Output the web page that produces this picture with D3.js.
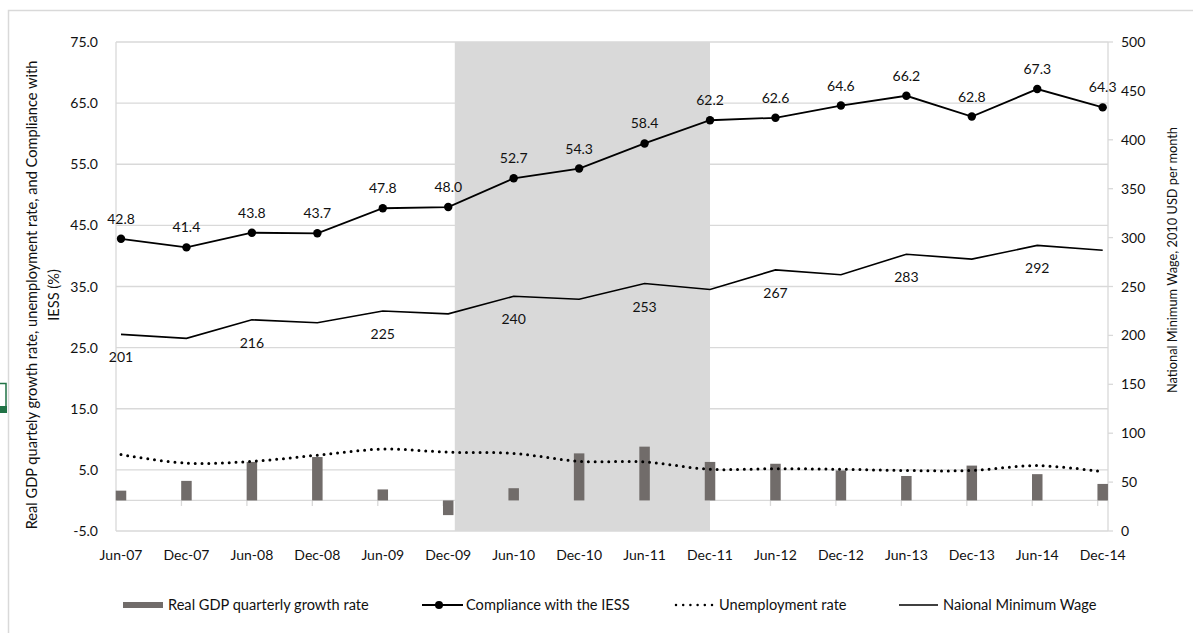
<!DOCTYPE html>
<html>
<head>
<meta charset="utf-8">
<script src="https://cdn.jsdelivr.net/npm/d3@7"></script>
<style>
  html, body { margin: 0; padding: 0; background: #fff; }
  svg text { font-family: Lato, "Open Sans", sans-serif; fill: #111; }
</style>
</head>
<body>
<svg id="chart" width="1193" height="633"></svg>
<script>
// Half-yearly observations, Jun-07 to Dec-14
const categories = ["Jun-07","Dec-07","Jun-08","Dec-08","Jun-09","Dec-09","Jun-10","Dec-10",
                    "Jun-11","Dec-11","Jun-12","Dec-12","Jun-13","Dec-13","Jun-14","Dec-14"];
// Real GDP quarterly growth rate (%), left axis
const gdpGrowth = [1.6, 3.2, 6.3, 7.1, 1.8, -2.4, 2.0, 7.7, 8.8, 6.3, 6.0, 4.9, 4.0, 5.7, 4.3, 2.7];
// Compliance with the IESS (%), left axis
const compliance = [42.8, 41.4, 43.8, 43.7, 47.8, 48.0, 52.7, 54.3, 58.4, 62.2, 62.6, 64.6, 66.2, 62.8, 67.3, 64.3];
// Unemployment rate (%), left axis
const unemployment = [7.5, 6.1, 6.4, 7.4, 8.4, 7.9, 7.7, 6.4, 6.3, 5.1, 5.2, 5.1, 4.9, 4.9, 5.7, 4.7];
// National minimum wage, 2010 USD per month, right axis
const minWage = [201, 197, 216, 213, 225, 222, 240, 237, 253, 247, 267, 262, 283, 278, 292, 287];
// Only the June wage observations carry a value label
const wageLabelled = [true, false, true, false, true, false, true, false, true, false, true, false, true, false, true, false];
// Shaded period, in category-index units (Dec-09 to Dec-11)
const shadedSpan = [5.1, 9.0];
const leftTicks = [-5, 5, 15, 25, 35, 45, 55, 65, 75];
const rightTicks = [0, 50, 100, 150, 200, 250, 300, 350, 400, 450, 500];
const legendLabels = ["Real GDP quarterly growth rate", "Compliance with the IESS", "Unemployment rate", "Naional Minimum Wage"];

const svg = d3.select("#chart");
const plot = { left: 116, right: 1108, top: 42, bottom: 531 };

const x = d3.scalePoint().domain(categories).range([121, 1102.7]);
const step = x.step();
const yL = d3.scaleLinear().domain([-5, 75]).range([plot.bottom, plot.top]);
const yR = d3.scaleLinear().domain([0, 500]).range([plot.bottom, plot.top]);
const gridColor = "#d9d9d9";
const barColor = "#716c6a";

// Outer frame (top and left edges)
svg.append("path")
  .attr("d", "M8.5,633 V10.5 H1193")
  .attr("fill", "none").attr("stroke", "#d9d9d9").attr("stroke-width", 1.5);

// Small green selection handle at the far left
svg.append("path")
  .attr("d", "M0,383.5 H6 V413")
  .attr("fill", "none").attr("stroke", "#217346").attr("stroke-width", 1.5);
svg.append("rect").attr("x", 0).attr("y", 406).attr("width", 7).attr("height", 7).attr("fill", "#217346");

// Horizontal gridlines
svg.append("g").selectAll("line").data(leftTicks).join("line")
  .attr("x1", plot.left).attr("x2", plot.right)
  .attr("y1", d => yL(d)).attr("y2", d => yL(d))
  .attr("stroke", gridColor).attr("stroke-width", 1.3);

// Left axis line
svg.append("line").attr("x1", plot.left).attr("x2", plot.left)
  .attr("y1", plot.top).attr("y2", plot.bottom)
  .attr("stroke", gridColor).attr("stroke-width", 1.3);

// Category axis on the zero line, with ticks just left of each point
svg.append("line").attr("x1", plot.left).attr("x2", plot.right)
  .attr("y1", yL(0)).attr("y2", yL(0))
  .attr("stroke", gridColor).attr("stroke-width", 1.3);
svg.append("g").selectAll("line").data(categories.slice(1)).join("line")
  .attr("x1", d => x(d) - 5).attr("x2", d => x(d) - 5)
  .attr("y1", yL(0)).attr("y2", yL(0) + 5.5)
  .attr("stroke", gridColor).attr("stroke-width", 1.3);

// Shaded period
const idxX = i => x(categories[0]) + i * step;
svg.append("rect")
  .attr("x", idxX(shadedSpan[0])).attr("y", plot.top)
  .attr("width", idxX(shadedSpan[1]) - idxX(shadedSpan[0]))
  .attr("height", plot.bottom - plot.top)
  .attr("fill", "#d9d9d9");

// Right axis line and ticks
svg.append("line").attr("x1", plot.right).attr("x2", plot.right)
  .attr("y1", plot.top).attr("y2", plot.bottom)
  .attr("stroke", gridColor).attr("stroke-width", 1.3);
svg.append("g").selectAll("line").data(rightTicks).join("line")
  .attr("x1", plot.right).attr("x2", plot.right + 5)
  .attr("y1", d => yR(d)).attr("y2", d => yR(d))
  .attr("stroke", gridColor).attr("stroke-width", 1.3);

// GDP growth bars
const barW = 10.5;
svg.append("g").selectAll("rect").data(gdpGrowth).join("rect")
  .attr("x", (d, i) => x(categories[i]) - barW / 2)
  .attr("y", d => Math.min(yL(d), yL(0)))
  .attr("width", barW)
  .attr("height", d => Math.abs(yL(d) - yL(0)))
  .attr("fill", barColor);

// Unemployment rate, smoothed dotted line
const unempLine = d3.line().x((d, i) => x(categories[i])).y(d => yL(d)).curve(d3.curveCatmullRom.alpha(0.5));
svg.append("path").datum(unemployment)
  .attr("d", unempLine)
  .attr("fill", "none").attr("stroke", "#000").attr("stroke-width", 3)
  .attr("stroke-linecap", "round").attr("stroke-dasharray", "0 6.8");

// Minimum wage line
const wageLine = d3.line().x((d, i) => x(categories[i])).y(d => yR(d));
svg.append("path").datum(minWage)
  .attr("d", wageLine)
  .attr("fill", "none").attr("stroke", "#000").attr("stroke-width", 1.6);
svg.append("g").selectAll("text").data(minWage.map((v, i) => ({ v, i })).filter(d => wageLabelled[d.i])).join("text")
  .attr("x", d => x(categories[d.i]))
  .attr("y", d => yR(d.v) + 28)
  .attr("text-anchor", "middle").attr("font-size", 14)
  .text(d => d.v);

// Compliance line with markers
const compLine = d3.line().x((d, i) => x(categories[i])).y(d => yL(d));
svg.append("path").datum(compliance)
  .attr("d", compLine)
  .attr("fill", "none").attr("stroke", "#000").attr("stroke-width", 1.8);
svg.append("g").selectAll("circle").data(compliance).join("circle")
  .attr("cx", (d, i) => x(categories[i])).attr("cy", d => yL(d))
  .attr("r", 4.2).attr("fill", "#000");
svg.append("g").selectAll("text").data(compliance).join("text")
  .attr("x", (d, i) => x(categories[i]))
  .attr("y", d => yL(d) - 15)
  .attr("text-anchor", "middle").attr("font-size", 14)
  .text(d => d.toFixed(1));

// Left tick labels
svg.append("g").selectAll("text").data(leftTicks).join("text")
  .attr("x", 98).attr("y", d => yL(d))
  .attr("dy", "0.36em").attr("text-anchor", "end").attr("font-size", 14)
  .text(d => d.toFixed(1));

// Right tick labels
svg.append("g").selectAll("text").data(rightTicks).join("text")
  .attr("x", 1121).attr("y", d => yR(d))
  .attr("dy", "0.36em").attr("text-anchor", "start").attr("font-size", 14)
  .text(d => d);

// Category labels
svg.append("g").selectAll("text").data(categories).join("text")
  .attr("x", d => x(d)).attr("y", 555)
  .attr("dy", "0.36em").attr("text-anchor", "middle").attr("font-size", 14)
  .text(d => d);

// Axis titles
const leftTitle = svg.append("text")
  .attr("transform", "translate(32,295) rotate(-90)")
  .attr("text-anchor", "middle").attr("font-size", 14.6);
leftTitle.append("tspan").attr("x", 0).attr("dy", "0.36em")
  .text("Real GDP quartely growth rate, unemployment rate, and Compliance with");
leftTitle.append("tspan").attr("x", 0).attr("dy", "1.5em").text("IESS (%)");

svg.append("text")
  .attr("transform", "translate(1172,260) rotate(-90)")
  .attr("text-anchor", "middle").attr("dy", "0.36em").attr("font-size", 12.8)
  .text("National Minimum Wage, 2010 USD per month");

// Legend
const legY = 605;
const leg = svg.append("g").attr("font-size", 14.6);
leg.append("rect").attr("x", 123).attr("y", legY - 3).attr("width", 40).attr("height", 6).attr("fill", barColor);
leg.append("text").attr("x", 168).attr("y", legY).attr("dy", "0.36em").text(legendLabels[0]);

leg.append("line").attr("x1", 422).attr("x2", 463).attr("y1", legY).attr("y2", legY)
  .attr("stroke", "#000").attr("stroke-width", 1.8);
leg.append("circle").attr("cx", 439).attr("cy", legY).attr("r", 4).attr("fill", "#000");
leg.append("text").attr("x", 466).attr("y", legY).attr("dy", "0.36em").text(legendLabels[1]);

leg.append("line").attr("x1", 676).attr("x2", 712).attr("y1", legY).attr("y2", legY)
  .attr("stroke", "#000").attr("stroke-width", 2.5)
  .attr("stroke-linecap", "round").attr("stroke-dasharray", "0 7.2");
leg.append("text").attr("x", 719).attr("y", legY).attr("dy", "0.36em").text(legendLabels[2]);

leg.append("line").attr("x1", 899).attr("x2", 938).attr("y1", legY).attr("y2", legY)
  .attr("stroke", "#000").attr("stroke-width", 1.6);
leg.append("text").attr("x", 943).attr("y", legY).attr("dy", "0.36em").text(legendLabels[3]);
</script>
</body>
</html>
